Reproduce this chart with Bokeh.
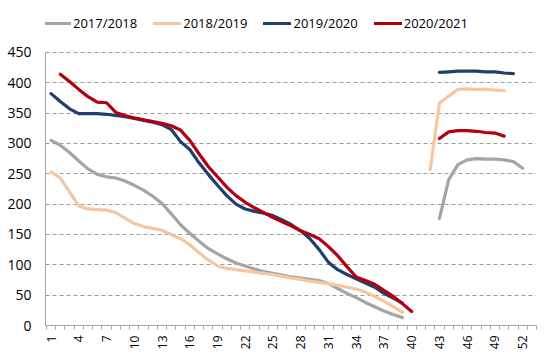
import math
import numpy as np
from bokeh.plotting import figure
from bokeh.models import ColumnDataSource, FixedTicker, Legend, LegendItem, Range1d
from bokeh.embed import file_html
from bokeh.resources import INLINE

nan = float("nan")

weeks = list(range(1, 54))
series_names = ["2017/2018", "2018/2019", "2019/2020", "2020/2021"]
colors = ["#A5A5A5", "#F5C6A0", "#213F6C", "#B3000F"]

# values per week 1..53 (nan = no data)
v2017 = [305, 297, 285, 271, 258, 249, 245, 243, 238, 231, 223, 213, 201, 184, 166,
         152, 139, 127, 118, 110, 103, 98, 93, 89, 86, 83, 80, 78, 76, 74,
         69, 61, 53, 46, 38, 31, 24, 18, 13,
         nan, nan, nan,
         176, 240, 265, 273, 275, 274, 274, 273, 270, 259, nan]
v2018 = [253, 243, 220, 197, 192, 191, 190, 186, 177, 168, 163, 160, 157, 150, 143,
         133, 120, 108, 98, 94, 92, 90, 88, 86, 84, 81, 78, 76, 73, 71,
         69, 66, 63, 60, 55, 48, 40, 31, 22,
         nan, nan,
         257, 366, 378, 389, 390, 389, 389, 388, 387, nan, nan, nan]
v2019 = [382, 369, 357, 349, 349, 349, 348, 346, 344, 341, 338, 335, 331, 323, 303,
         290, 268, 249, 231, 214, 200, 192, 188, 185, 181, 174, 166, 156, 143, 125,
         104, 92, 84, 77, 70, 63, 53, 45, 37,
         nan, nan, nan,
         417, 418, 419, 419, 419, 418, 418, 416, 415, nan, nan]
v2020 = [nan, 414, 402, 389, 377, 368, 367, 351, 346, 342, 339, 336, 333, 329, 322,
         305, 283, 262, 245, 228, 214, 203, 194, 186, 178, 171, 164, 156, 150, 143,
         130, 115, 97, 80, 74, 68, 58, 48, 36, 23,
         nan, nan,
         308, 319, 321, 321, 320, 318, 317, 312, nan, nan, nan]

y_ticks = [0, 50, 100, 150, 200, 250, 300, 350, 400, 450]
x_label_ticks = list(range(1, 53, 3))

FONT = "Open Sans"

p = figure(width=546, height=352, output_backend="svg", toolbar_location=None,
           x_range=Range1d(0.4, 53.5), y_range=Range1d(0, 519),
           min_border_left=45, min_border_right=10, min_border_top=10, min_border_bottom=5)
p.outline_line_color = None
p.background_fill_color = "white"
p.border_fill_color = "white"

renderers = []
for name, vals, col in zip(series_names, [v2017, v2018, v2019, v2020], colors):
    src = ColumnDataSource(dict(x=weeks, y=np.array(vals, dtype=float)))
    r = p.line("x", "y", source=src, line_color=col, line_width=3.2, line_join="round", line_cap="round")
    renderers.append(r)

# axes
p.yaxis.ticker = FixedTicker(ticks=y_ticks)
p.yaxis.bounds = (0, 450)
p.yaxis.major_tick_line_color = None
p.yaxis.minor_tick_line_color = None
p.yaxis.axis_line_color = "#A6A6A6"
p.yaxis.axis_line_width = 1
p.yaxis.major_label_text_font = FONT
p.yaxis.major_label_text_font_size = "14px"
p.yaxis.major_label_text_color = "#000000"
p.yaxis.major_label_standoff = 8

p.xaxis.ticker = FixedTicker(ticks=x_label_ticks, minor_ticks=[w + 0.5 for w in range(0, 54)])
p.xaxis.axis_line_color = "#A6A6A6"
p.xaxis.major_tick_line_color = "#A6A6A6"
p.xaxis.minor_tick_line_color = "#A6A6A6"
p.xaxis.major_tick_in = 0
p.xaxis.major_tick_out = 0
p.xaxis.minor_tick_in = 0
p.xaxis.minor_tick_out = 4
p.xaxis.major_label_orientation = math.pi / 2
p.xaxis.major_label_text_font = FONT
p.xaxis.major_label_text_font_size = "12px"
p.xaxis.major_label_text_color = "#000000"
p.xaxis.major_label_standoff = 6

p.xgrid.grid_line_color = None
p.ygrid.ticker = FixedTicker(ticks=y_ticks[1:])
p.ygrid.grid_line_color = "#9A9A9A"
p.ygrid.grid_line_dash = "4 3"
p.ygrid.grid_line_width = 1

legend = Legend(items=[LegendItem(label=n, renderers=[r]) for n, r in zip(series_names, renderers)],
                orientation="horizontal", location=(-2, 293))
legend.label_text_font = FONT
legend.label_text_font_size = "13px"
legend.label_text_color = "#000000"
legend.glyph_width = 28
legend.glyph_height = 14
legend.label_standoff = 2
legend.spacing = 16
legend.padding = 0
legend.margin = 0
legend.border_line_color = None
legend.background_fill_alpha = 0
p.add_layout(legend, "center")

open("out.html", "w").write(file_html(p, INLINE))
